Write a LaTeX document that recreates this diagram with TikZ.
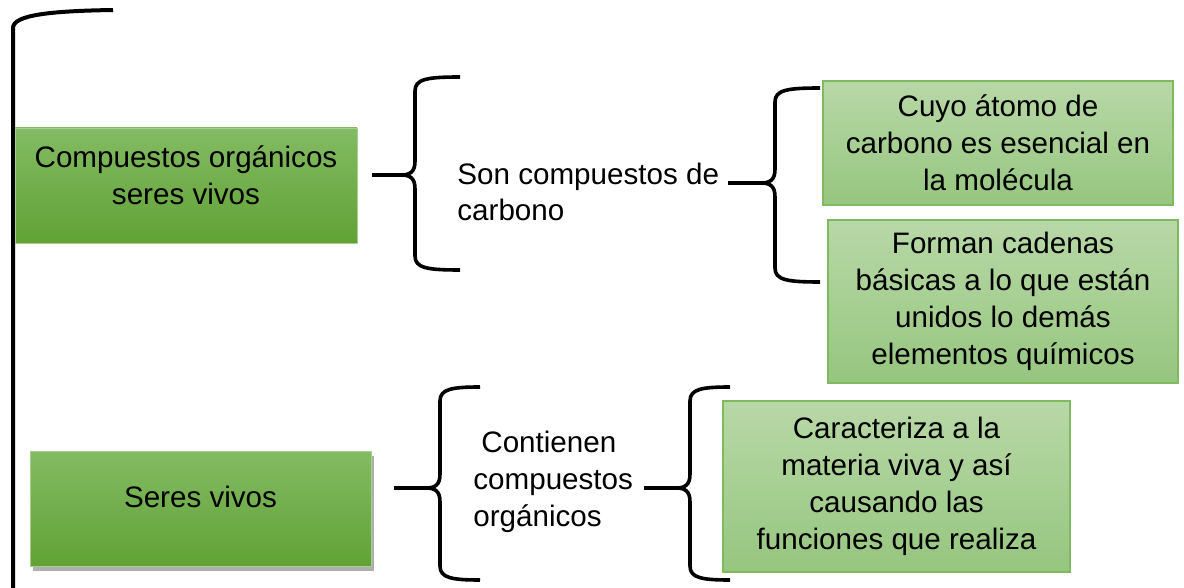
\documentclass[tikz,border=0pt]{standalone}
\usepackage{fontspec}
\setmainfont{Liberation Sans}
\usetikzlibrary{shadows}
\definecolor{verdeA}{RGB}{131,187,99}
\definecolor{verdeB}{RGB}{97,162,53}
\definecolor{claroA}{RGB}{184,216,167}
\definecolor{claroB}{RGB}{150,198,127}
\definecolor{borde}{RGB}{128,186,96}
\tikzstyle{oscuro}=[rectangle, top color=verdeA, bottom color=verdeB, draw=verdeA!70!white, line width=0.4pt, align=center, inner sep=0pt]
\tikzstyle{claro}=[rectangle, top color=claroA, bottom color=claroB, draw=borde, line width=0.6pt, align=center, inner sep=0pt]
\tikzstyle{texto}=[inner sep=0pt, align=left, anchor=west]
\tikzstyle{llave}=[line width=1.8pt, black]
% tip x, tip y, vertical x, top y, bottom y, arm x
\newcommand{\llave}[6]{%
	\draw[llave] (#6,#4) .. controls (#3+12,#4) and (#3,#4+2) .. (#3,#4+14) -- (#3,#2-14)
		.. controls (#3,#2-3) and (#3-5,#2) .. (#3-14,#2) -- (#1,#2);
	\draw[llave] (#3-14,#2) .. controls (#3-5,#2) and (#3,#2+3) .. (#3,#2+14) -- (#3,#5-14)
		.. controls (#3,#5-2) and (#3+12,#5) .. (#6,#5);
}

\begin{document}
\begin{tikzpicture}[x=0.5pt, y=-0.5pt, font=\fontsize{14.8}{18.4}\selectfont]
		\useasboundingbox (0,0) rectangle (1184,588);
		%\draw [help lines, step=50] (0,0) grid (1184,588);

		% gran corchete
		\draw[line width=2pt] (113,10) .. controls (50,11) and (13,15) .. (13,28) -- (13,588);

		\node[oscuro, minimum width=171pt, minimum height=57.5pt] (organicos) at (186,185.5)
			{Compuestos orgánicos\\seres vivos\rule[-10pt]{0pt}{0pt}};
		\node[oscuro, minimum width=170.5pt, minimum height=57.5pt,
			drop shadow={shadow xshift=1.5pt, shadow yshift=-2.5pt, opacity=0.45, fill=black!70}]
			(vivos) at (200.5,508.5) {Seres vivos\rule[-11.5pt]{0pt}{0pt}};

		\llave{372}{175}{415}{77}{270}{460}
		\node[texto] (carbono) at (457,192) {Son compuestos de\\carbono};

		\llave{728}{183}{775}{88}{282}{820}
		\node[claro, minimum width=175pt, minimum height=62pt] (atomo) at (998,143)
			{Cuyo átomo de\\carbono es esencial en\\la molécula};
		\node[claro, minimum width=175pt, minimum height=81.5pt] (cadenas) at (1003,301.5)
			{Forman cadenas\\básicas a lo que están\\unidos lo demás\\elementos químicos};

		\llave{394}{488}{440}{387}{580}{480}
		\node[texto] (contienen) at (473,482) {\hspace{4pt}Contienen\\compuestos\\orgánicos};

		\llave{644}{488}{690}{387}{580}{730}
		\node[claro, minimum width=173.5pt, minimum height=85.5pt] (materia) at (896.5,486.5)
			{Caracteriza a la\\materia viva y así\\causando las\\funciones que realiza};
\end{tikzpicture}
\end{document}
